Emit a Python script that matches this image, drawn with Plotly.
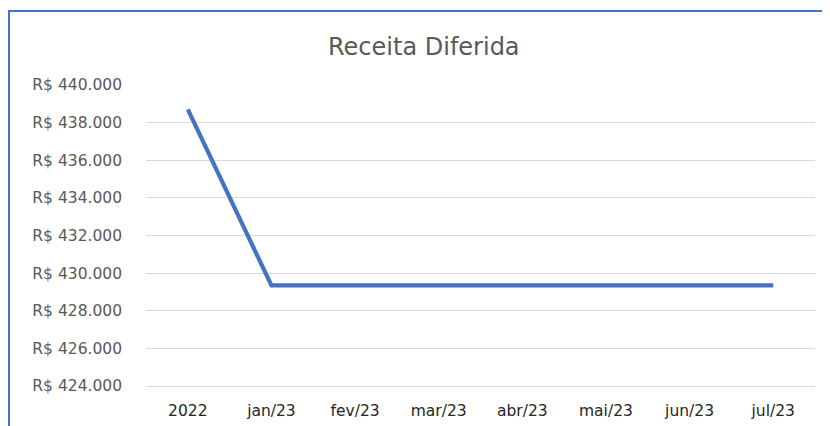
import plotly.graph_objects as go

categories = ["2022", "jan/23", "fev/23", "mar/23", "abr/23", "mai/23", "jun/23", "jul/23"]
values = [438700, 429350, 429350, 429350, 429350, 429350, 429350, 429350]
y_ticks = [424000, 426000, 428000, 430000, 432000, 434000, 436000, 438000, 440000]
y_tick_labels = ["R$ 424.000", "R$ 426.000", "R$ 428.000", "R$ 430.000", "R$ 432.000",
                 "R$ 434.000", "R$ 436.000", "R$ 438.000", "R$ 440.000"]
title_text = "Receita Diferida"

# the page body adds an 8px margin at top/left, so the figure is drawn 8px smaller
OFF = 8
W, H = 830 - OFF, 426 - OFF
plot_left, plot_right, plot_top, plot_bottom = 146, 815, 85, 386  # reference pixels
L = plot_left - OFF
R = W - (plot_right - OFF)
T = plot_top - OFF
B = H - (plot_bottom - OFF)
pw, ph = W - L - R, H - T - B

def px(x):  # x in reference-page pixels -> paper coord
    return (x - OFF - L) / pw

def py(y):  # y in reference-page pixels -> paper coord
    return (H - B - (y - OFF)) / ph

FONT = "DejaVu Sans, sans-serif"

fig = go.Figure()
fig.add_trace(go.Scatter(
    x=categories, y=values, mode="lines",
    line=dict(color="#4472C4", width=4.2),
    hoverinfo="x+y", showlegend=False,
))

fig.update_layout(
    width=W, height=H,
    margin=dict(l=L, r=R, t=T, b=B, autoexpand=False),
    paper_bgcolor="white", plot_bgcolor="white",
    font=dict(family=FONT, size=15, color="#595959"),
    xaxis=dict(
        type="category", range=[-0.5, 7.5], automargin=False,
        showgrid=False, showline=True, linecolor="#D9D9D9", linewidth=1,
        ticks="", tickfont=dict(size=15.5, color="#262626"),
        ticklabelstandoff=10,
        fixedrange=True,
    ),
    yaxis=dict(
        range=[424000, 440000], tickvals=y_ticks, ticktext=y_tick_labels,
        automargin=False,
        showgrid=True, gridcolor="#D9D9D9", gridwidth=1,
        zeroline=False, showline=False, ticks="",
        ticklabelstandoff=23,
        tickfont=dict(size=15.5, color="#595959"),
        fixedrange=True,
    ),
    annotations=[dict(
        text=title_text, xref="paper", yref="paper",
        x=px(424), y=py(47), xanchor="center", yanchor="middle",
        showarrow=False, font=dict(size=24, color="#595959", family=FONT),
    )],
    shapes=[
        dict(type="line", xref="paper", yref="paper",
             x0=px(9), x1=px(9), y0=py(10), y1=py(440),
             line=dict(color="#4472C4", width=2)),
        dict(type="line", xref="paper", yref="paper",
             x0=px(8), x1=px(840), y0=py(11), y1=py(11),
             line=dict(color="#4472C4", width=2)),
    ],
)

fig.write_html("out.html")
